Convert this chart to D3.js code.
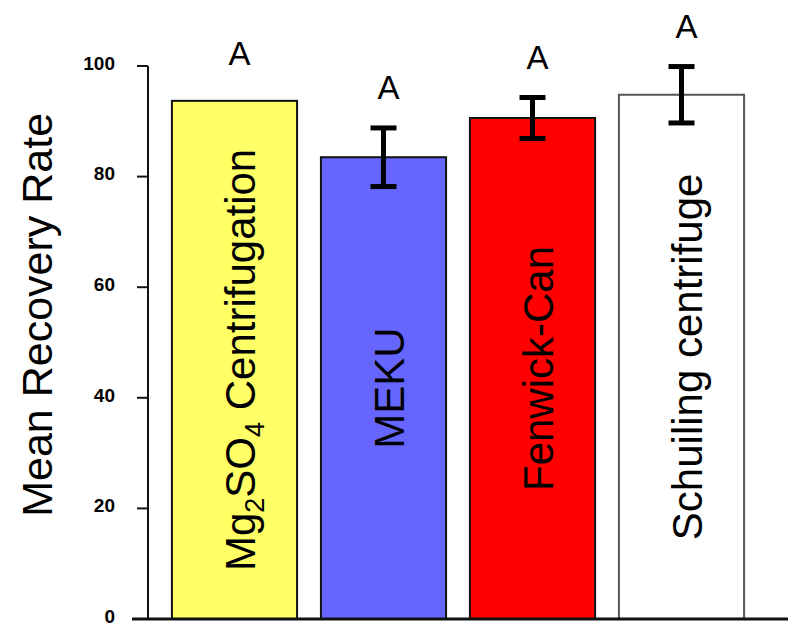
<!DOCTYPE html>
<html>
<head>
<meta charset="utf-8">
<script src="https://cdn.jsdelivr.net/npm/d3@7"></script>
<style>
  body { margin: 0; background: #fff; }
  svg { display: block; font-family: 'Liberation Sans', Arial, sans-serif; }
</style>
</head>
<body>
<div id="chart"></div>
<script>
// chart data
const methods = ['Mg2SO4 Centrifugation', 'MEKU', 'Fenwick-Can', 'Schuiling centrifuge'];
const means = [93.7, 83.5, 90.6, 94.8];
const errors = [0, 5.3, 3.7, 5.1];
const groups = ['A', 'A', 'A', 'A'];
const fills = ['#ffff66', '#6666ff', '#ff0000', '#ffffff'];
const strokes = ['#111', '#111', '#111', '#555'];
const yTicks = [0, 20, 40, 60, 80, 100];

const width = 788;
const height = 627;

const svg = d3.select('#chart').append('svg')
  .attr('width', width).attr('height', height);

const x = d3.scaleBand().domain(methods).range([160, 756])
  .paddingInner(0.16).paddingOuter(0.08);
const y = d3.scaleLinear().domain([0, 100]).range([619, 66]);

// y axis
const yAxis = svg.append('g').attr('transform', 'translate(148,0)');
yAxis.append('line').attr('x1', 0).attr('x2', 0).attr('y1', y(100)).attr('y2', y(0))
  .style('stroke', '#111').style('stroke-width', 2);
yAxis.selectAll('.tick').data(yTicks).enter().append('line')
  .attr('x1', -11).attr('x2', 0).attr('y1', d => y(d)).attr('y2', d => y(d))
  .style('stroke', '#111').style('stroke-width', 2);
yAxis.selectAll('.lbl').data(yTicks).enter().append('text')
  .attr('x', -33).attr('y', d => y(d)).attr('dy', '0.2em')
  .style('text-anchor', 'end').style('font-size', '19px').style('font-weight', 'bold')
  .text(d => d);

svg.append('text')
  .attr('transform', `translate(52, ${y(55)}) rotate(-90)`)
  .style('text-anchor', 'middle').style('font-size', '43px')
  .text('Mean Recovery Rate');

// bars
const bars = svg.selectAll('.bar').data(methods).enter().append('g').attr('class', 'bar');
bars.append('rect')
  .attr('x', d => x(d)).attr('width', x.bandwidth())
  .attr('y', (d, i) => y(means[i])).attr('height', (d, i) => y(0) - y(means[i]))
  .style('fill', (d, i) => fills[i]).style('stroke', (d, i) => strokes[i]).style('stroke-width', 2);

// labels inside bars
bars.each(function (d, i) {
  const cx = x(d) + x.bandwidth() / 2 + 6;
  const cy = (y(means[i]) + y(0)) / 2;
  const t = d3.select(this).append('text')
    .attr('transform', `translate(${cx}, ${cy}) rotate(-90)`)
    .style('text-anchor', 'middle').style('font-size', '42px')
    .attr('dy', '0.35em');
  if (d.startsWith('Mg2SO4')) {
    t.append('tspan').text('Mg');
    t.append('tspan').text('2').style('font-size', '27px').attr('dy', '9');
    t.append('tspan').text('SO').attr('dy', '-9');
    t.append('tspan').text('4').style('font-size', '27px').attr('dy', '9');
    t.append('tspan').text('\u00a0Centrifugation').attr('dy', '-9');
  } else {
    t.text(d);
  }
});

// error bars
const eb = bars.filter((d, i) => errors[i] > 0);
eb.append('line')
  .attr('x1', d => x(d) + x.bandwidth() / 2).attr('x2', d => x(d) + x.bandwidth() / 2)
  .attr('y1', d => y(means[methods.indexOf(d)] + errors[methods.indexOf(d)]))
  .attr('y2', d => y(means[methods.indexOf(d)] - errors[methods.indexOf(d)]))
  .style('stroke', '#000').style('stroke-width', 5);
[1, -1].forEach(s => {
  eb.append('line')
    .attr('x1', d => x(d) + x.bandwidth() / 2 - 13).attr('x2', d => x(d) + x.bandwidth() / 2 + 13)
    .attr('y1', d => y(means[methods.indexOf(d)] + s * errors[methods.indexOf(d)]))
    .attr('y2', d => y(means[methods.indexOf(d)] + s * errors[methods.indexOf(d)]))
    .style('stroke', '#000').style('stroke-width', 5);
});

// significance letters
bars.append('text')
  .attr('x', d => x(d) + x.bandwidth() / 2 + 5)
  .attr('y', (d, i) => y(means[i] + errors[i]) - (errors[i] > 0 ? 29 : 36))
  .style('text-anchor', 'middle').style('font-size', '33px')
  .text((d, i) => groups[i]);

// x baseline
svg.append('line').attr('x1', 132).attr('x2', width).attr('y1', y(0)).attr('y2', y(0))
  .style('stroke', '#111').style('stroke-width', 3);
</script>
</body>
</html>
